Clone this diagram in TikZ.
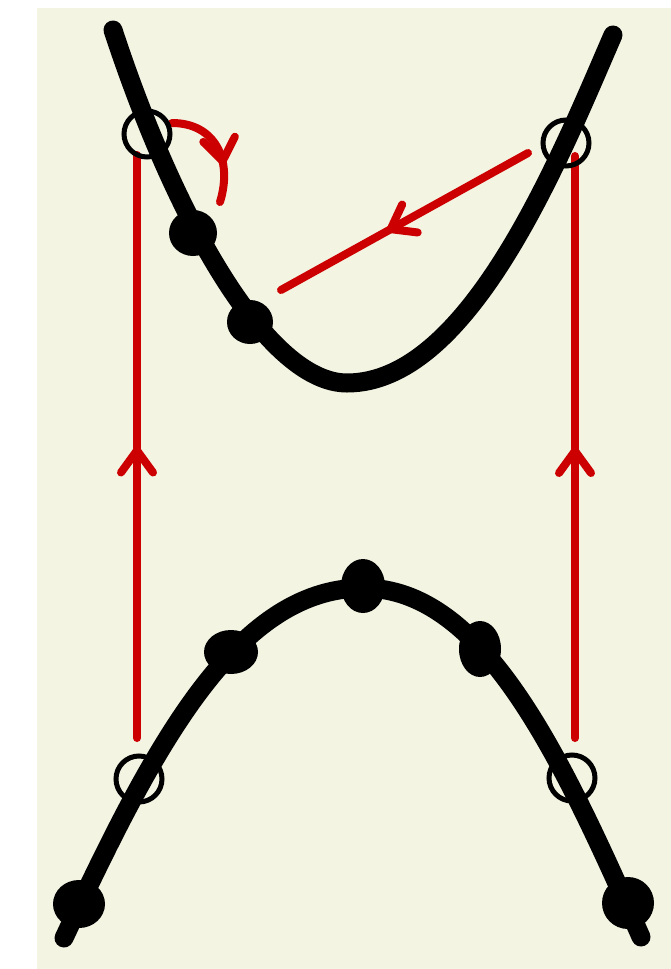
\documentclass[tikz,border=0pt]{standalone}
\usepackage{tikz}
\usetikzlibrary{shapes.geometric,arrows.meta,decorations.markings}
\definecolor{paper}{RGB}{243,244,226}
\definecolor{flowred}{RGB}{204,0,0}
\tikzset{
  branch/.style={line width=19pt, line cap=round, line join=round},
  ring/.style={circle, draw, line width=5pt, minimum size=46pt, inner sep=0pt},
  blob/.style={ellipse, fill, inner sep=0pt},
  flow/.style={draw=flowred, line width=8pt, line cap=round},
  midarrow/.style={postaction={decorate}, decoration={markings,
    mark=at position #1 with {\arrow[flowred]{Straight Barb[length=22pt,width=32pt,round]}}}},
  midarrow/.default=0.5
}
\begin{document}
\begin{tikzpicture}[x=1pt, y=-1pt]
    \useasboundingbox (0,0) rectangle (671,969);
    \fill[paper] (37,8) rectangle (671,969);
    \coordinate (lfoot) at (137,738);
    \coordinate (lhead) at (137,155);
    \coordinate (rfoot) at (575,738);
    \coordinate (rhead) at (575,156);
    \coordinate (dstart) at (528,153);
    \coordinate (dend) at (281,290);
    \coordinate (hstart) at (172,123);
    \coordinate (hend) at (220,202);
    \draw[flow, midarrow=0.5] (lfoot) -- (lhead);
    \draw[flow, midarrow=0.5] (rfoot) -- (rhead);
    \draw[flow, midarrow=0.57] (dstart) -- (dend);
    \draw[flow, midarrow=0.66] (hstart) .. controls (215,123) and (233,160) .. (hend);
    \draw[branch] (113,30) .. controls (178,228) and (270,383) .. (347,383)
        .. controls (470,383) and (560,157) .. (613,35);
    \draw[branch] (64,938) .. controls (149,757) and (233,588) .. (363,588)
        .. controls (483,588) and (560,754) .. (641,937);
    \node[ring] (uL) at (147,134) {};
    \node[ring] (uR) at (566,143) {};
    \node[ring] (lL) at (139,779) {};
    \node[ring] (lR) at (572,778) {};
    \node[blob, minimum width=48pt, minimum height=46pt] (u1) at (193,233) {};
    \node[blob, minimum width=46pt, minimum height=44pt] (u2) at (250,322) {};
    \node[blob, minimum width=52pt, minimum height=48pt] (l1) at (79,904) {};
    \node[blob, minimum width=54pt, minimum height=44pt] (l2) at (231,652) {};
    \node[blob, minimum width=44pt, minimum height=54pt] (l3) at (363,586) {};
    \node[blob, minimum width=42pt, minimum height=56pt] (l4) at (480,649) {};
    \node[blob, minimum width=52pt, minimum height=52pt] (l5) at (628,903) {};
\end{tikzpicture}
\end{document}
